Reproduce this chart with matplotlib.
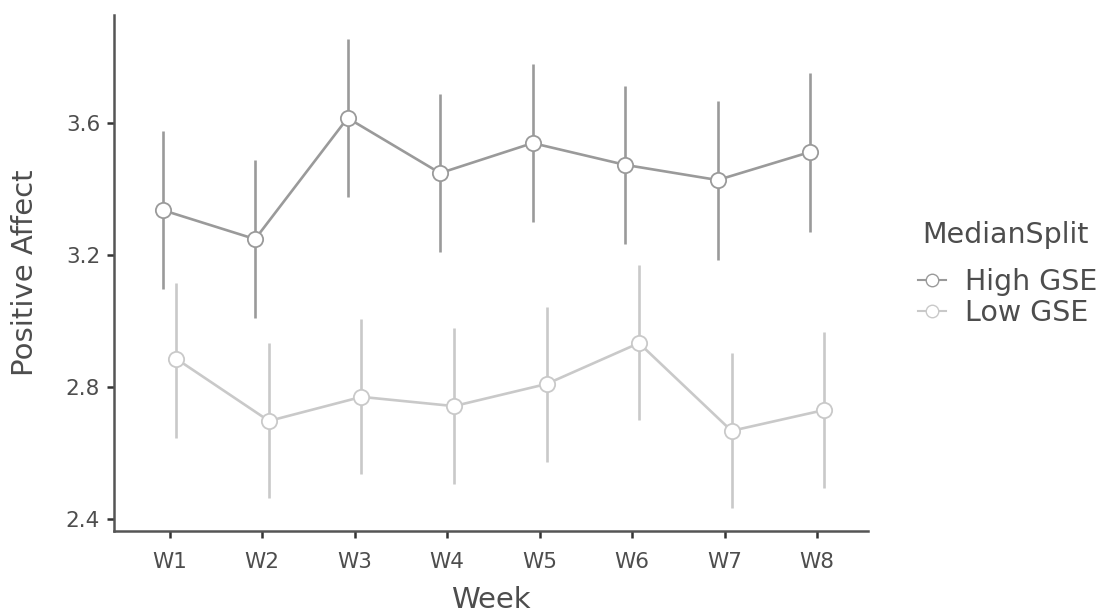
import numpy as np
import matplotlib
matplotlib.use("Agg")
import matplotlib.pyplot as plt
from matplotlib.lines import Line2D

# data
weeks = ["W1", "W2", "W3", "W4", "W5", "W6", "W7", "W8"]
high_mean = [3.336, 3.248, 3.615, 3.448, 3.539, 3.473, 3.427, 3.512]
high_lo = [3.097, 3.009, 3.376, 3.209, 3.300, 3.233, 3.185, 3.270]
high_hi = [3.576, 3.488, 3.855, 3.688, 3.779, 3.712, 3.667, 3.752]
low_mean = [2.885, 2.697, 2.770, 2.742, 2.809, 2.933, 2.667, 2.730]
low_lo = [2.645, 2.464, 2.536, 2.506, 2.573, 2.700, 2.433, 2.494]
low_hi = [3.115, 2.933, 3.006, 2.979, 3.042, 3.170, 2.903, 2.967]

HIGH_COL = "#9a9a9a"
LOW_COL = "#c9c9c9"
TXT = "#4d4d4d"

fig = plt.figure(figsize=(11.05, 6.16), dpi=100)
ax = fig.add_axes([0.1032, 0.138, 0.6823, 0.8376])

x = np.arange(1, len(weeks) + 1)
dodge = 0.075

for xs, m, lo, hi, col in [(x - dodge, high_mean, high_lo, high_hi, HIGH_COL),
                           (x + dodge, low_mean, low_lo, low_hi, LOW_COL)]:
    ax.vlines(xs, lo, hi, color=col, lw=1.9, zorder=2)
    ax.plot(xs, m, color=col, lw=1.9, zorder=3)
    ax.plot(xs, m, "o", ms=11, mfc="white", mec=col, mew=1.3, lw=0, zorder=4)

ax.set_xlim(0.4, 8.55)
ax.set_ylim(2.3636, 3.927)
ax.set_xticks(x)
ax.set_xticklabels(weeks)
ax.set_yticks([2.4, 2.8, 3.2, 3.6])
ax.set_yticklabels(["2.4", "2.8", "3.2", "3.6"])

for s in ["top", "right"]:
    ax.spines[s].set_visible(False)
for s in ["left", "bottom"]:
    ax.spines[s].set_color("#555555")
    ax.spines[s].set_linewidth(1.8)
ax.tick_params(colors="#333333", width=1.8, length=5, labelsize=15.5,
               labelcolor=TXT)
ax.tick_params(axis="x", pad=10)
ax.tick_params(axis="y", pad=5)

ax.set_xlabel("Week", fontsize=21, color=TXT, labelpad=10)
ax.set_ylabel("Positive Affect", fontsize=21, color=TXT, labelpad=19)

# legend: title drawn separately so the gap below it matches
fig.text(922 / 1105, 1 - 235 / 616, "MedianSplit", fontsize=20.5,
         color=TXT, ha="left", va="center")
handles = [Line2D([], [], color=HIGH_COL, lw=1.5, marker="o", ms=9,
                  mfc="white", mec=HIGH_COL),
           Line2D([], [], color=LOW_COL, lw=1.5, marker="o", ms=9,
                  mfc="white", mec=LOW_COL)]
leg = fig.legend(handles, ["High GSE", "Low GSE"],
                 loc="upper left", bbox_to_anchor=(918 / 1105, 1 - 268 / 616),
                 frameon=False, fontsize=20.5, borderpad=0,
                 handlelength=1.0, handletextpad=0.65, labelspacing=0.12,
                 borderaxespad=0)
for t in leg.get_texts():
    t.set_color(TXT)

fig.savefig("out.png", dpi=100)
